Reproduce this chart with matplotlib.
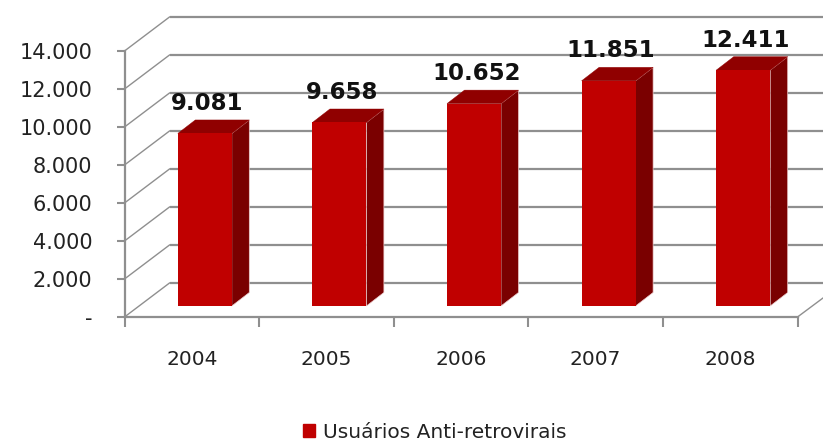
import matplotlib
matplotlib.use("Agg")
import matplotlib.pyplot as plt
from matplotlib.patches import Polygon, Patch

plt.rcParams['font.family'] = ['DejaVu Sans']

years = ['2004', '2005', '2006', '2007', '2008']
users = [9081, 9658, 10652, 11851, 12411]
value_labels = ['9.081', '9.658', '10.652', '11.851', '12.411']
y_ticks = [0, 2000, 4000, 6000, 8000, 10000, 12000, 14000]
y_tick_labels = ['-', '2.000', '4.000', '6.000', '8.000', '10.000', '12.000', '14.000']
legend_label = 'Usuários Anti-retrovirais'

W, H = 823, 443
fig = plt.figure(figsize=(W / 100, H / 100), dpi=100, facecolor='white')
L, R, T, B = 124.5, 797.5, 51, 317
ax = fig.add_axes([L / W, 1 - B / H, (R - L) / W, (B - T) / H])
ax.set_xlim(0, 5)
ax.set_ylim(0, 14000)
px_x = 5 / (R - L)
px_y = 14000 / (B - T)

GRID = '#8f8f8f'
lw = 1.6

# back wall offset, floor-right end
wall_dx, wall_dy = 45 * px_x, 34 * px_y
end_x = (823 - L) * px_x
end_y = wall_dy * 19 / 34
for v in y_ticks:
    ax.plot([0, wall_dx], [v, v + wall_dy], color=GRID, lw=1.0, clip_on=False, zorder=1)
    ax.plot([wall_dx, end_x], [v + wall_dy, v + wall_dy], color=GRID, lw=lw,
            clip_on=False, zorder=1, solid_capstyle='butt')
ax.plot([5, end_x], [0, end_y], color=GRID, lw=1.0, clip_on=False, zorder=1)

# bars
bar_w = 54 * px_x
base = 11 * px_y
depth_x, depth_y = 17.5 * px_x, 13.5 * px_y
shift = 13 * px_x
FRONT, SIDE, TOP = '#c00000', '#7a0000', '#900000'
ticks_mid = [i + 0.5 for i in range(len(years))]
centers = [m + shift for m in ticks_mid]
ax.bar(centers, users, width=bar_w, bottom=base, color=FRONT, zorder=3,
       edgecolor='none', clip_on=False)
for c, v, lab in zip(centers, users, value_labels):
    x0, x1 = c - bar_w / 2, c + bar_w / 2
    top = v + base
    ax.add_patch(Polygon([(x1, base), (x1 + depth_x, base + depth_y),
                          (x1 + depth_x, top + depth_y), (x1, top)],
                         closed=True, fc=SIDE, ec='#eccccc', lw=0.5, zorder=2, clip_on=False))
    ax.add_patch(Polygon([(x0, top), (x0 + depth_x, top + depth_y),
                          (x1 + depth_x, top + depth_y), (x1, top)],
                         closed=True, fc=TOP, ec=TOP, lw=0.3, zorder=2, clip_on=False))
    ax.text(c + 2.5 * px_x, top + 30 * px_y, lab, ha='center', va='center',
            fontsize=16.5, fontweight='bold', color='#111111', zorder=4, clip_on=False)

# axes
for s in ('top', 'right'):
    ax.spines[s].set_visible(False)
for s in ('left', 'bottom'):
    ax.spines[s].set_color(GRID)
    ax.spines[s].set_linewidth(lw)
ax.patch.set_alpha(0)
ax.set_yticks(y_ticks)
ax.set_yticklabels(y_tick_labels, fontsize=15, color='#222222')
ax.tick_params(axis='y', length=6, width=1.5, color=GRID, pad=17)
ax.set_xticks(range(6))
ax.set_xticklabels([])
ax.tick_params(axis='x', which='major', length=7, width=1.5, color=GRID)
ax.set_xticks(ticks_mid, minor=True)
ax.set_xticklabels(years, minor=True, fontsize=14.5, color='#222222')
ax.tick_params(axis='x', which='minor', length=0, pad=24)

handle = Patch(facecolor=FRONT, edgecolor=FRONT)
fig.legend([handle], [legend_label], loc='center', bbox_to_anchor=(435 / W, 1 - 432 / H),
           frameon=False, fontsize=14.5, handlelength=0.6, handleheight=0.6,
           handletextpad=0.4, labelcolor='#222222', borderpad=0)

fig.savefig('out.png', dpi=100, facecolor='white')
